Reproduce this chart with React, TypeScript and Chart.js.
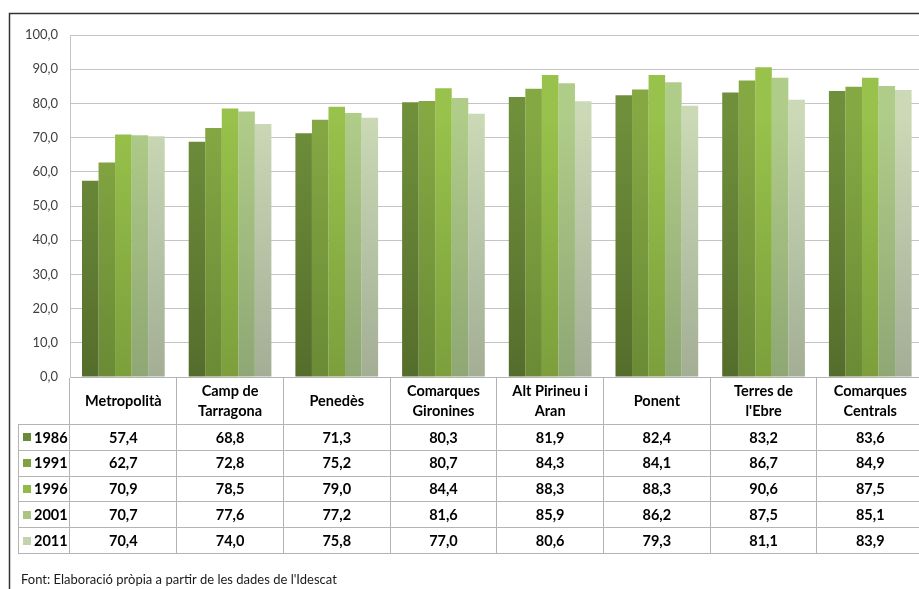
import React, { useEffect, useRef } from "react";
import { Chart, registerables } from "chart.js";
Chart.register(...registerables);

const categories: string[][] = [
  ["Metropolità"],
  ["Camp de", "Tarragona"],
  ["Penedès"],
  ["Comarques", "Gironines"],
  ["Alt Pirineu i", "Aran"],
  ["Ponent"],
  ["Terres de", "l'Ebre"],
  ["Comarques", "Centrals"],
];
const years = ["1986", "1991", "1996", "2001", "2011"];
const s1986 = [57.4, 68.8, 71.3, 80.3, 81.9, 82.4, 83.2, 83.6];
const s1991 = [62.7, 72.8, 75.2, 80.7, 84.3, 84.1, 86.7, 84.9];
const s1996 = [70.9, 78.5, 79.0, 84.4, 88.3, 88.3, 90.6, 87.5];
const s2001 = [70.7, 77.6, 77.2, 81.6, 85.9, 86.2, 87.5, 85.1];
const s2011 = [70.4, 74.0, 75.8, 77.0, 80.6, 79.3, 81.1, 83.9];
const seriesValues = [s1986, s1991, s1996, s2001, s2011];
const yMin = 0;
const yMax = 100;
const yStep = 10;
const footnote = "Font: Elaboració pròpia a partir de les dades de l'Idescat";

const topColors = ["#6f8f3b", "#86a843", "#98c24b", "#b0cc89", "#cbd9b6"];
const bottomColors = ["#556d2c", "#6a8a35", "#7c9f3c", "#8fa774", "#a3ae95"];
const legendColors = ["#6a8a37", "#80a140", "#93ba48", "#a9c483", "#c4d2ae"];

const FONT = "Lato, 'Open Sans', sans-serif";
const fmt = (v: number) => v.toFixed(1).replace(".", ",");

const tablePlugin = {
  id: "tablePlugin",
  afterDraw(chart: any) {
    const ctx = chart.ctx as CanvasRenderingContext2D;
    const area = chart.chartArea;
    const xs = chart.scales.x;
    const W = chart.width;
    const H = chart.height;
    ctx.save();
    // frame
    ctx.strokeStyle = "#333333";
    ctx.lineWidth = 1.5;
    ctx.beginPath();
    ctx.moveTo(9.5, H);
    ctx.lineTo(9.5, 13.5);
    ctx.lineTo(W, 13.5);
    ctx.stroke();

    const tableLeft = 18;
    const rowTop = 424;
    const rowH = 25.8;
    const nRows = years.length;
    // horizontal lines
    ctx.strokeStyle = "#b4b4b4";
    ctx.lineWidth = 1;
    for (let r = 0; r <= nRows; r++) {
      const y = Math.round(rowTop + r * rowH) + 0.5;
      ctx.beginPath();
      ctx.moveTo(tableLeft, y);
      ctx.lineTo(W, y);
      ctx.stroke();
    }
    ctx.beginPath();
    ctx.moveTo(tableLeft + 0.5, rowTop);
    ctx.lineTo(tableLeft + 0.5, Math.round(rowTop + nRows * rowH) + 0.5);
    ctx.stroke();

    // header labels
    ctx.fillStyle = "#000";
    ctx.textAlign = "center";
    ctx.textBaseline = "middle";
    ctx.font = `bold 14.5px ${FONT}`;
    const headMid = (area.bottom + rowTop) / 2 + 1;
    categories.forEach((lines, i) => {
      const x = xs.getPixelForValue(i);
      const lh = 20;
      const start = headMid - ((lines.length - 1) * lh) / 2;
      lines.forEach((t, j) => ctx.fillText(t, x, start + j * lh));
    });

    // rows
    seriesValues.forEach((vals, r) => {
      const yc = rowTop + r * rowH + rowH / 2 + 1;
      ctx.fillStyle = legendColors[r];
      ctx.fillRect(23, Math.round(yc - 4.5), 8, 8);
      ctx.fillStyle = "#000";
      ctx.textAlign = "left";
      ctx.fillText(years[r], 34, yc);
      ctx.textAlign = "center";
      vals.forEach((v, i) => {
        ctx.fillText(fmt(v), xs.getPixelForValue(i), yc);
      });
    });

    // footnote
    ctx.font = `13px ${FONT}`;
    ctx.textAlign = "left";
    ctx.fillStyle = "#1a1a1a";
    ctx.fillText(footnote, 21, 580);
    ctx.restore();
  },
};

export default function App() {
  const ref = useRef<HTMLCanvasElement | null>(null);
  useEffect(() => {
    if (!ref.current) return;
    const makeGrad = (i: number) => (c: any) => {
      const chart = c.chart;
      const a = chart.chartArea;
      if (!a) return topColors[i];
      const g = chart.ctx.createLinearGradient(0, a.top + 80, 0, a.bottom);
      g.addColorStop(0, topColors[i]);
      g.addColorStop(1, bottomColors[i]);
      return g;
    };
    const chart = new Chart(ref.current, {
      type: "bar",
      data: {
        labels: categories.map((c) => c.join(" ")),
        datasets: seriesValues.map((vals, i) => ({
          label: years[i],
          data: vals,
          backgroundColor: makeGrad(i),
          borderWidth: 0,
          barPercentage: 1,
          categoryPercentage: 0.775,
        })),
      },
      options: {
        responsive: false,
        animation: false,
        devicePixelRatio: 1,
        layout: { padding: { left: 0, right: 16.4, top: 35, bottom: 0 } },
        plugins: {
          legend: { display: false },
          tooltip: { enabled: false },
        },
        scales: {
          x: {
            offset: true,
            ticks: { display: false },
            grid: {
              display: true,
              offset: true,
              drawOnChartArea: false,
              drawTicks: true,
              tickLength: 176,
              color: "#b4b4b4",
            },
            border: { display: true, color: "#b4b4b4" },
            afterFit: (s: any) => {
              s.height = 212;
            },
          },
          y: {
            min: yMin,
            max: yMax,
            ticks: {
              stepSize: yStep,
              padding: 12,
              color: "#404040",
              font: { family: FONT, size: 13 },
              callback: (v: any) => fmt(Number(v)),
            },
            grid: { color: "#c4c4c4", drawTicks: false },
            border: { display: true, color: "#c4c4c4" },
            afterFit: (s: any) => {
              s.width = 70;
            },
          },
        },
      },
      plugins: [tablePlugin],
    });
    return () => chart.destroy();
  }, []);
  return (
    <div
      style={{
        position: "fixed",
        left: 0,
        top: 0,
        width: 919,
        height: 589,
        overflow: "hidden",
        background: "#fff",
      }}
    >
      <canvas ref={ref} width={940} height={589} style={{ display: "block", width: 940, height: 589 }} />
    </div>
  );
}
